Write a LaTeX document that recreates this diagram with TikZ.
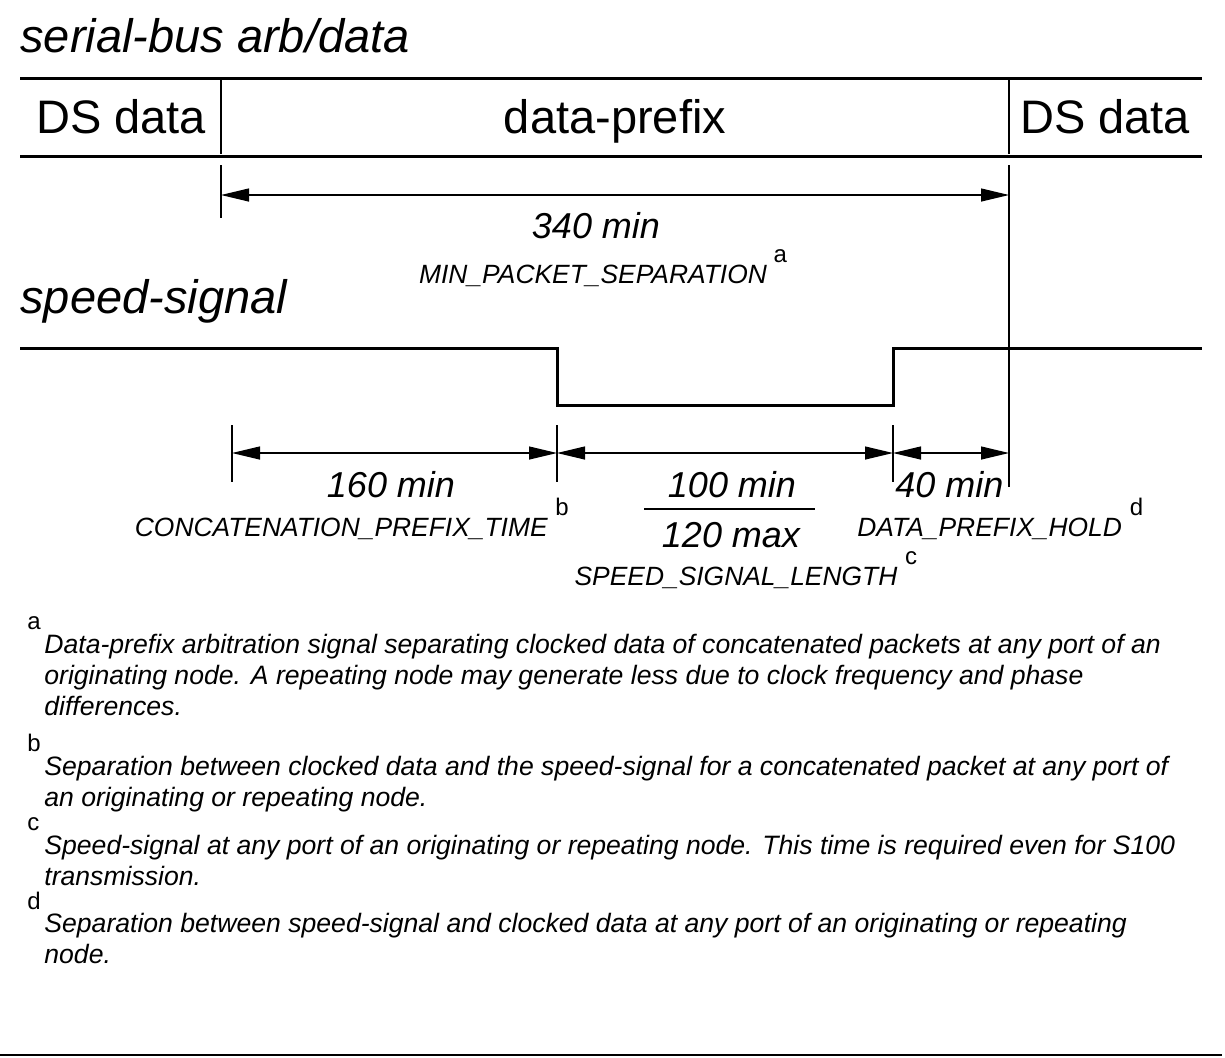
\documentclass[tikz,border=0pt]{standalone}
\usepackage{fontspec}
\setmainfont{Liberation Sans}
\usetikzlibrary{calc,positioning,arrows.meta}
\tikzset{
  wave/.style={line width=1.5pt},
  tickline/.style={line width=0.6pt},
  dimline/.style={line width=0.6pt,{Triangle[length=14pt,width=6.5pt]}-{Triangle[length=14pt,width=6.5pt]}},
  bigtxt/.style={inner sep=0pt,font=\fontsize{23.5}{28}\selectfont},
  sigtxt/.style={inner sep=0pt,font=\fontsize{23.5}{28}\selectfont\itshape},
  midtxt/.style={inner sep=0pt,font=\fontsize{18}{22}\selectfont\itshape},
  smalltxt/.style={inner sep=0pt,font=\fontsize{13.2}{15}\selectfont\itshape},
  supmark/.style={inner sep=0pt,font=\fontsize{12}{14}\selectfont},
  notetxt/.style={inner sep=0pt,align=left,anchor=north west,font=\fontsize{13.3}{15.5}\selectfont\itshape}
}

\begin{document}
\begin{tikzpicture}[x=0.5pt,y=-0.5pt]
		\useasboundingbox (0,0) rectangle (1225,1057);
		% bus
		\node[sigtxt,anchor=base west] (bustitle) at (20,52) {serial-bus arb/data};
		\draw[wave] (20,78) coordinate (bustl) -- (1202,78) coordinate (bustr);
		\draw[wave] (20,156) coordinate (busbl) -- (1202,156) coordinate (busbr);
		\foreach \x/\n in {221/l,1009/r} {
			\draw[tickline] (\x,80) coordinate (bt\n) -- (\x,154) coordinate (bb\n);
		}
		\node[bigtxt,anchor=base] (dsl) at (121,133) {DS data};
		\node[bigtxt,anchor=base] (prefix) at (615,133) {data-prefix};
		\node[bigtxt,anchor=base] (dsr) at (1105,133) {DS data};

		% packet separation
		\draw[tickline] (221,165) -- (221,218);
		\draw[tickline] (1009,165) coordinate (rtop) -- (1009,487) coordinate (rbot);
		\coordinate (u0) at (221,195);
		\coordinate (u1) at (1009,195);
		\draw[dimline] (u0) -- (u1);
		\node[midtxt,anchor=base] (sepval) at (596,238) {340 min};
		\node[smalltxt,anchor=base] (sepname) at (593,283) {MIN\_PACKET\_SEPARATION};
		\node[supmark,anchor=base west] (supa) at ($(sepname.base east)+(6,-21)$) {a};

		% speed signal
		\node[sigtxt,anchor=base west] (sigtitle) at (20,313) {speed-signal};
		\draw[wave] (20,348) coordinate (s0) -- (557,348) -- (557,405) -- (893,405) -- (893,348) -- (1202,348) coordinate (s1);

		% timing below the signal
		\foreach \x [count=\i from 0] in {232,557,893,1009} {
			\coordinate (d\i) at (\x,453);
		}
		\foreach \x in {232,557,893} {
			\draw[tickline] (\x,425) -- (\x,482);
		}
		\foreach \i/\j in {0/1,1/2,2/3} {
			\draw[dimline] (d\i) -- (d\j);
		}
		\node[midtxt,anchor=base] (catval) at (391,497) {160 min};
		\node[smalltxt,anchor=base east] (catname) at (548,536) {CONCATENATION\_PREFIX\_TIME};
		\node[supmark,anchor=base west] (supb) at ($(catname.base east)+(7,-21)$) {b};
		\node[midtxt,anchor=base] (lenmin) at (732,497) {100 min};
		\draw[line width=1.2pt] (644,509) coordinate (frl) -- (815,509) coordinate (frr);
		\node[midtxt,anchor=base] (lenmax) at (731,547) {120 max};
		\node[smalltxt,anchor=base] (lenname) at (736,585) {SPEED\_SIGNAL\_LENGTH};
		\node[supmark,anchor=base west] (supc) at ($(lenname.base east)+(7,-21)$) {c};
		\node[midtxt,anchor=base west] (holdval) at (895,497) {40 min};
		\node[smalltxt,anchor=base west] (holdname) at (857,536) {DATA\_PREFIX\_HOLD};
		\node[supmark,anchor=base west] (supd) at ($(holdname.base east)+(7,-21)$) {d};

		% notes
		\node[supmark,anchor=base west] (na) at (27,629) {a};
		\node[notetxt] (ta) at (44,634) {Data-prefix arbitration signal separating clocked data of concatenated packets at any port of an\\ originating node. A repeating node may generate less due to clock frequency and phase\\ differences.};
		\node[supmark,anchor=base west] (nb) at (27,751) {b};
		\node[notetxt] (tb) at (44,756) {Separation between clocked data and the speed-signal for a concatenated packet at any port of\\ an originating or repeating node.};
		\node[supmark,anchor=base west] (nc) at (27,830) {c};
		\node[notetxt] (tc) at (44,835) {Speed-signal at any port of an originating or repeating node. This time is required even for S100\\ transmission.};
		\node[supmark,anchor=base west] (nd) at (27,909) {d};
		\node[notetxt] (td) at (44,913) {Separation between speed-signal and clocked data at any port of an originating or repeating\\ node.};
		\draw[line width=1pt] (0,1055) -- (1222,1055);
\end{tikzpicture}
\end{document}
